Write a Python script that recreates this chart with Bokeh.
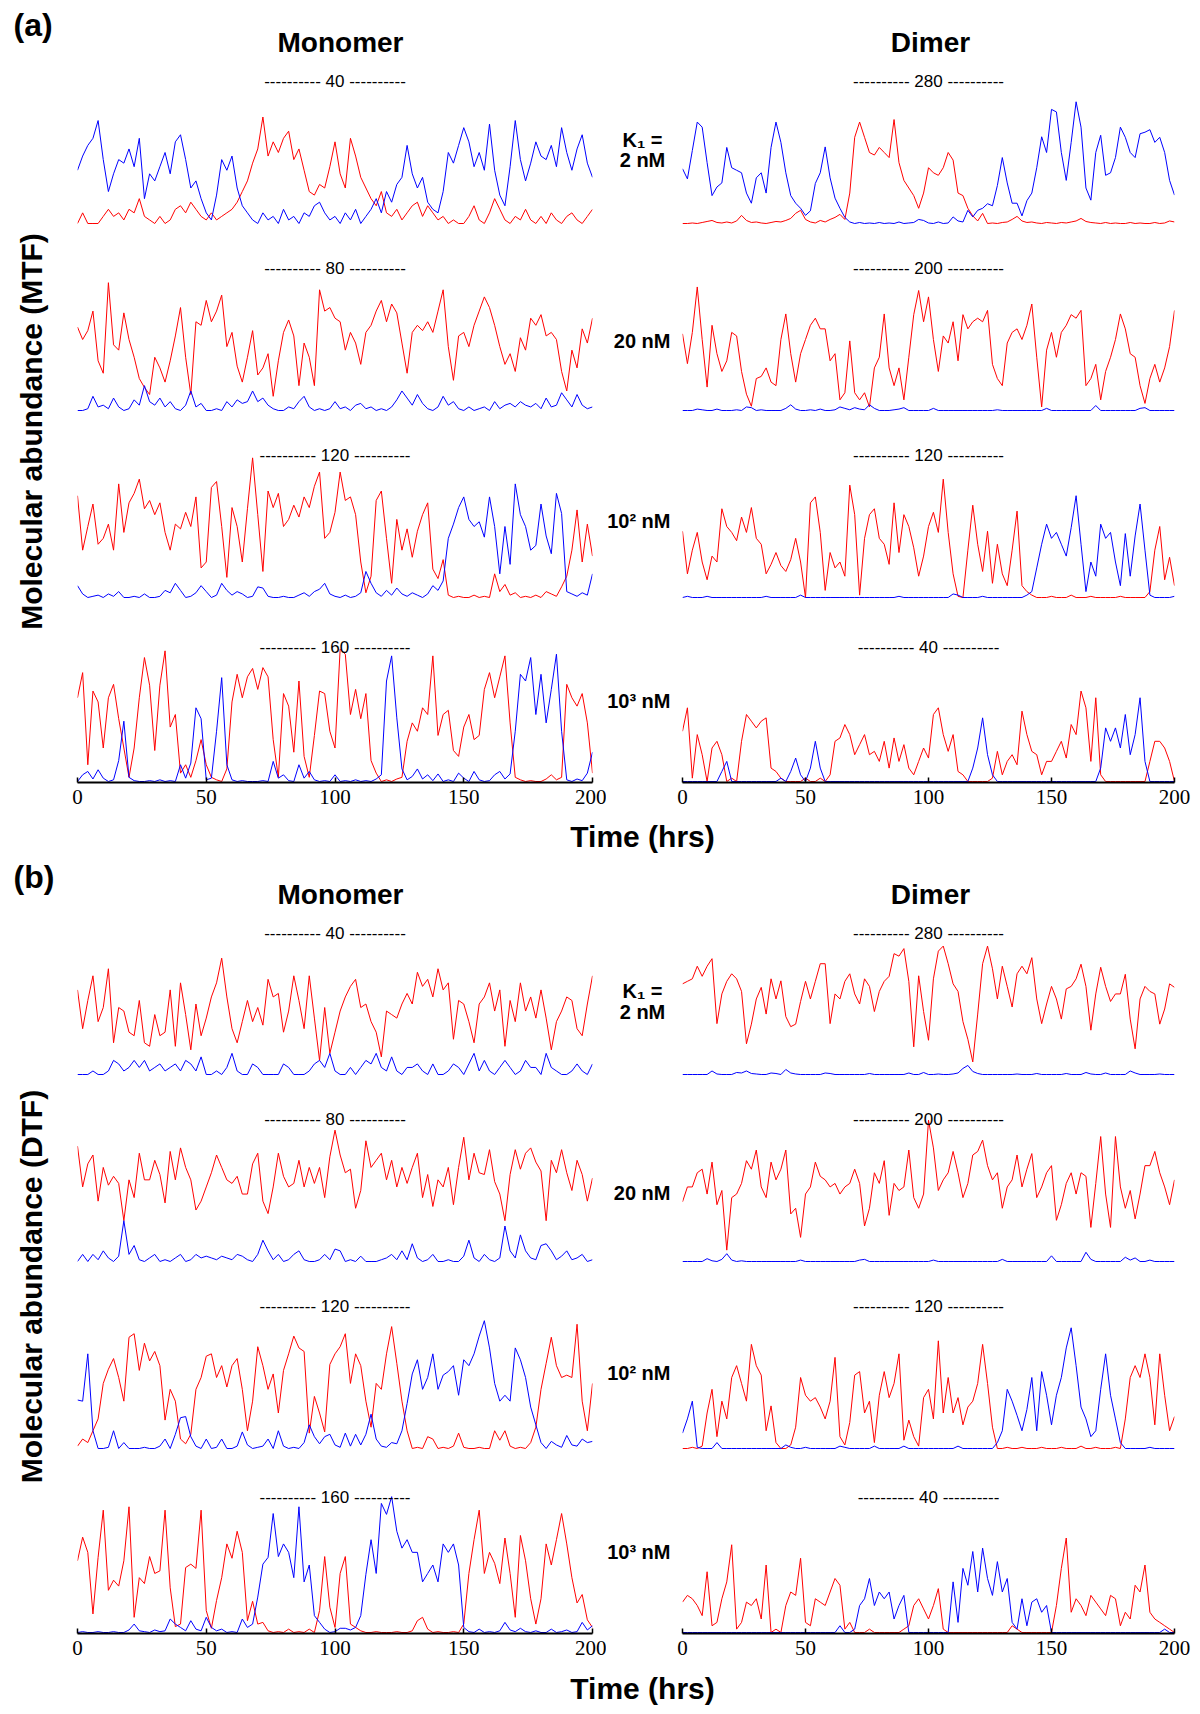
import math
from bokeh.plotting import figure
from bokeh.layouts import column, row
from bokeh.models import Range1d, FixedTicker
from bokeh.embed import file_html
from bokeh.resources import INLINE
from bokeh.core.properties import value

SANS = "Liberation Sans"
SERIF = "Liberation Serif"
RED = "#ff0000"
BLUE = "#0000ff"

# sampling step of the traces (hours)
STEP_HRS = 2
TIME_TICKS = [0, 50, 100, 150, 200]
MONO_MAX = [40, 80, 120, 160]
DIM_MAX = [280, 200, 120, 40]
ROW_NAMES = ["2 nM", "20 nM", "10\u00b2 nM", "10\u00b3 nM"]

# ---------------- (a) MTF, monomer ----------------
mtf_mono_2nM_red = [0,3,0,0,0,2,4,2,3,1, 4,3,7,2,1,0,2,0,1,4, 5,3,6,4,2,1,3,1,2,3,
    4,6,9,12,17,21,30,19,23,20, 24,26,18,21,15,9,8,11,10,16, 23,14,10,24,19,13,10,7,5,9,
    3,2,4,1,3,5,6,2,5,3, 1,2,0,1,0,0,2,5,1,0, 3,7,4,1,0,2,1,4,1,0, 2,0,3,1,0,2,3,1,0,2, 4]
mtf_mono_2nM_blue = [15,19,22,24,29,18,9,14,18,17, 21,16,24,7,14,12,16,20,14,23, 25,18,10,12,7,3,1,8,18,15,
    19,10,5,3,1,0,3,1,2,0, 4,1,2,0,3,2,5,6,3,1, 2,0,3,1,4,0,2,4,7,3,
    9,6,11,13,22,14,10,13,6,4, 3,9,20,17,22,27,23,16,20,15, 28,15,8,5,16,29,18,12,17,23,
    19,18,22,16,27,20,15,21,25,17, 13]
mtf_mono_20nM_red = [47,40,45,56,28,21,72,37,34,55, 40,30,18,13,9,30,24,16,28,42, 58,30,9,50,48,62,50,56,65,36,
    44,25,16,30,45,20,24,32,8,28, 44,51,42,14,38,30,14,68,56,58, 52,50,34,44,38,26,44,48,56,62,
    50,60,55,38,21,44,48,45,50,44, 56,68,36,17,42,44,36,48,56,64, 58,48,36,26,32,22,41,34,52,48,
    54,42,44,40,22,11,34,24,46,38, 52]
mtf_mono_20nM_blue = [0,0,1,8,2,3,1,7,2,0, 1,6,3,14,5,3,7,2,5,1, 0,3,11,2,4,0,0,1,0,5,
    2,6,4,5,11,5,7,3,1,0, 0,2,1,5,8,2,0,1,0,1, 5,1,2,0,3,4,1,2,0,1,
    0,2,6,11,7,3,9,4,1,0, 2,8,3,5,1,0,2,0,1,2, 0,5,1,3,4,2,5,3,2,4, 1,7,2,3,10,6,2,9,3,1, 2]
mtf_mono_100nM_red = [86,40,60,79,45,50,62,40,96,55, 80,88,100,75,82,70,80,55,40,62, 58,72,60,85,25,30,93,98,60,17,
    76,60,30,75,118,70,22,90,76,88, 60,66,78,68,85,76,94,106,50,55, 72,106,82,85,70,30,4,18,82,90,
    50,12,66,40,58,34,56,70,80,24, 16,32,2,0,1,0,0,2,0,1, 0,20,5,11,2,4,0,1,0,2,
    0,5,3,1,9,18,40,74,30,62, 35]
mtf_mono_100nM_blue = [10,3,0,1,2,0,3,1,5,0, 0,1,0,3,0,0,1,6,4,12, 6,0,1,4,10,5,0,2,12,6,
    2,5,3,0,1,9,8,1,0,0, 1,0,0,2,4,1,5,7,12,3, 1,0,2,0,1,4,22,12,4,1,
    6,2,8,3,1,4,2,0,3,10, 6,14,50,62,76,85,66,60,64,51, 85,60,20,60,28,96,70,60,40,44,
    79,52,37,88,71,5,3,1,4,2, 20]
mtf_mono_1000nM_red = [100,130,20,108,95,40,100,116,75,40, 5,40,100,148,115,37,115,156,65,80, 10,20,5,25,50,20,5,2,0,15,
    95,128,100,125,135,110,136,125,50,5, 105,90,35,120,30,5,55,108,105,60, 40,158,152,80,110,75,105,25,10,0,
    2,0,3,5,48,70,60,88,80,150, 55,80,85,37,30,65,80,50,55,110, 130,100,125,150,70,5,2,0,1,0,
    0,3,8,2,5,116,100,90,105,70, 10]
mtf_mono_1000nM_blue = [0,8,12,3,14,4,0,2,25,72, 5,1,0,0,1,0,2,0,1,0, 20,4,22,88,75,2,4,60,124,20,
    2,0,1,0,0,0,1,0,24,4, 8,1,0,20,4,12,2,0,1,0, 8,0,1,0,2,0,1,0,3,8,
    120,150,76,15,2,6,15,3,8,1, 9,0,2,0,10,4,0,12,2,0, 1,8,12,3,9,60,128,120,148,80,
    128,70,110,152,60,2,0,3,1,10, 35]

# ---------------- (a) MTF, dimer ----------------
mtf_dim_2nM_red = [0,0,1,0,2,4,6,2,1,3, 1,5,16,6,2,3,1,0,2,4, 3,6,10,20,26,8,3,1,6,3,
    8,12,18,8,60,170,200,170,140,135, 150,140,130,205,120,85,70,55,30,60, 110,100,95,110,140,125,60,55,30,15,
    5,20,0,1,0,2,3,8,14,5, 2,3,1,0,2,1,0,2,1,3, 5,10,4,2,1,0,2,0,1,0,
    0,2,0,1,0,0,2,0,1,5, 3]
mtf_dim_2nM_blue = [108,88,144,200,190,120,55,72,80,150, 110,105,100,60,40,90,100,60,150,200, 160,100,55,40,30,16,25,79,100,151,
    90,50,30,12,3,0,2,0,1,0, 2,0,1,0,3,0,1,2,8,6, 1,0,3,0,1,13,5,3,26,13,
    26,30,39,35,75,130,80,40,40,15, 45,60,110,171,140,225,220,140,85,160, 240,190,70,46,140,174,95,100,130,190,
    170,140,130,177,180,185,160,170,140,85, 56]
mtf_dim_20nM_red = [108,66,110,174,100,33,120,80,55,70, 110,105,55,23,6,45,48,60,40,35, 100,136,80,40,80,100,120,130,115,115,
    70,80,15,25,98,25,15,25,5,60, 75,136,60,35,60,15,75,135,169,125, 160,100,55,105,95,125,70,135,115,125,
    130,125,141,65,45,35,95,110,115,100, 120,150,75,5,85,110,75,110,120,135, 130,141,35,45,65,15,55,75,100,136,
    115,80,75,35,10,45,65,40,60,90, 141]
mtf_dim_20nM_blue = [0,0,0,2,1,0,0,2,0,0, 0,1,0,5,4,0,1,0,0,0, 0,3,8,2,0,0,1,0,2,0,
    0,1,5,3,1,4,2,1,8,3, 0,0,0,1,2,4,0,0,0,0, 0,3,0,0,0,0,0,0,0,0,
    0,0,0,0,1,0,0,0,0,0, 0,0,0,0,3,0,0,0,0,0, 0,0,0,0,7,0,0,0,0,0, 0,0,0,3,4,0,0,0,0,0, 0]
mtf_dim_100nM_red = [56,20,40,55,30,15,35,30,75,60, 55,48,68,55,76,50,45,20,28,38, 27,22,32,50,30,0,80,85,55,6,
    38,25,30,18,95,70,2,50,70,75, 50,45,28,80,38,70,60,42,18,35, 60,72,55,100,55,20,1,0,40,78,
    45,22,56,12,45,20,10,40,73,10, 5,2,0,0,0,1,0,0,0,2, 0,0,0,1,0,0,0,0,0,1,
    0,0,0,0,0,5,40,60,15,34, 10]
mtf_dim_100nM_blue = [0,1,0,0,0,1,0,0,0,0, 0,0,0,0,0,0,0,1,0,0, 0,0,0,0,2,0,0,0,0,0,
    0,0,0,0,0,0,0,0,0,0, 0,0,0,0,1,0,0,0,0,0, 0,0,0,0,0,3,2,0,0,0,
    0,1,0,0,0,0,0,0,0,0, 2,5,25,45,62,50,55,45,35,59, 86,45,5,30,18,62,50,55,30,10,
    54,18,52,79,40,2,0,0,0,0, 1]
mtf_dim_1000nM_red = [15,22,1,14,8,0,10,12,8,0, 1,0,12,20,18,16,18,19,4,3, 1,0,0,0,0,1,0,0,1,0,
    2,12,13,17,14,8,11,14,8,9, 6,12,4,13,6,11,4,2,6,10, 7,20,22,14,9,14,3,2,0,0,
    0,0,0,1,9,2,6,8,5,21, 14,9,8,2,6,6,9,12,7,17, 14,27,22,6,25,2,0,0,0,0,
    0,0,0,0,0,6,12,12,10,6, 0]
mtf_dim_1000nM_blue = [0,0,0,0,0,0,0,0,3,6, 0,0,0,0,0,0,0,0,0,0, 1,0,3,7,2,0,4,12,4,0,
    0,0,0,0,0,0,0,0,0,0, 0,0,0,0,0,0,0,0,0,0, 0,0,0,0,0,0,0,0,0,4,
    10,19,8,2,0,0,0,0,0,0, 0,0,0,0,0,0,0,0,0,0, 0,0,0,0,0,4,16,12,16,10,
    20,8,14,25,6,0,0,0,0,0, 0]

# ---------------- (b) DTF, monomer ----------------
dtf_mono_2nM_red = [24,13,21,28,15,19,30,9,19,18, 12,11,21,9,8,17,11,12,24,8, 26,17,7,20,11,16,22,26,33,22,
    13,9,15,21,15,19,14,27,22,23, 12,18,28,21,13,28,16,4,19,6, 12,18,22,25,27,19,20,15,12,5,
    18,17,16,20,23,20,29,25,27,22, 30,24,26,10,21,20,15,9,20,22, 26,18,24,8,21,15,26,18,22,16,
    24,16,7,15,18,22,21,13,11,20, 28]
dtf_mono_2nM_blue = [0,0,0,1,0,0,1,4,3,1, 2,4,2,4,1,2,3,1,2,3, 1,4,3,1,5,0,0,1,0,2,
    6,1,0,0,3,2,0,0,0,0, 3,2,0,0,0,1,3,4,2,6, 1,0,0,2,0,2,4,3,6,2,
    1,5,1,0,2,2,3,1,0,3, 0,0,1,3,2,0,3,6,1,4, 1,0,2,4,2,0,1,4,2,2, 0,6,2,1,0,0,1,3,1,0, 3]
dtf_mono_20nM_red = [65,42,55,60,34,53,43,48,44,23, 46,36,61,46,46,57,49,33,62,46, 64,53,46,29,34,42,50,60,53,46,
    44,48,38,38,55,61,34,27,42,61, 48,42,44,57,42,53,44,53,36,59, 74,60,50,52,30,40,68,53,57,61,
    46,57,42,53,44,53,61,36,49,31, 46,42,53,32,53,70,46,61,50,49, 63,45,38,23,49,63,52,61,64,56,
    51,23,57,50,63,50,40,57,49,34, 47]
dtf_mono_20nM_blue = [0,4,0,4,1,6,2,0,3,23, 4,9,1,0,2,4,0,1,0,2, 4,0,1,4,2,3,2,1,3,2,
    1,4,3,1,0,4,12,6,1,4, 0,1,4,6,1,0,0,1,4,1, 7,6,0,1,0,3,0,0,0,1,
    2,4,1,6,1,10,2,0,1,4, 0,0,1,0,0,3,12,2,0,4, 1,0,2,20,6,2,15,6,2,1, 9,10,6,1,3,6,1,2,4,0, 1]
dtf_mono_100nM_red = [2,8,5,15,25,55,67,76,60,40, 94,97,66,89,74,82,70,24,50,40, 8,4,12,50,60,78,80,60,70,52,
    70,76,50,15,40,86,70,50,63,30, 66,80,95,85,82,13,44,30,14,71, 80,86,97,55,80,70,40,18,55,50,
    80,103,72,40,15,0,1,0,10,8, 0,1,0,2,13,1,0,0,1,0, 0,15,7,15,2,0,1,0,5,18,
    50,72,94,70,60,62,60,105,40,15, 55]
dtf_mono_100nM_blue = [41,40,80,15,0,0,1,15,0,5, 0,0,0,1,0,0,2,8,0,12, 26,27,10,2,0,8,0,1,8,0,
    0,2,14,3,0,1,2,8,0,15, 2,0,1,0,5,20,10,4,10,12, 3,1,13,2,12,3,12,29,8,2,
    1,5,4,15,38,63,75,50,60,80, 50,62,65,70,45,75,70,80,95,108, 85,55,40,45,40,85,75,60,35,20,
    5,0,6,3,1,11,3,2,8,5, 6]
dtf_mono_1000nM_red = [85,113,95,22,89,145,50,62,55,85, 149,18,65,58,90,70,73,145,53,7, 10,77,81,76,145,26,5,38,65,105,
    88,120,95,14,37,10,12,2,0,1, 0,4,0,1,0,4,0,26,90,30, 6,70,90,10,6,2,0,0,1,0,
    0,0,1,0,0,2,14,18,4,0, 1,0,0,1,0,10,70,110,145,70, 95,82,58,112,70,18,115,85,40,10,
    40,105,80,110,141,105,65,35,45,15, 6]
dtf_mono_1000nM_blue = [0,1,0,0,1,0,0,1,0,0, 3,10,2,1,0,3,1,2,16,10, 6,2,14,4,2,18,6,2,4,0,
    1,0,16,6,10,42,81,89,141,90, 105,95,65,149,60,80,20,12,4,0, 1,5,5,3,6,20,69,110,70,153,
    140,161,120,100,110,95,95,60,70,80, 60,105,95,105,80,6,1,0,4,0, 1,0,2,12,3,1,5,1,0,2,
    0,0,4,0,1,3,0,1,12,3, 8]

# ---------------- (b) DTF, dimer ----------------
dtf_dim_2nM_red = [180,185,190,215,195,215,230,101,160,185, 200,190,165,61,100,150,173,120,190,150,
    186,115,95,100,145,185,150,185,220,220, 101,160,150,185,200,160,140,190,175,125,
    165,185,195,240,235,250,185,55,196,125, 68,190,245,255,220,180,165,105,70,25,
    120,220,255,210,150,215,175,134,200,215, 200,232,150,101,140,175,150,110,170,175,
    190,219,175,88,160,213,175,145,160,160, 199,110,51,150,175,165,160,100,130,180, 173]
dtf_dim_2nM_blue = [0,0,0,0,0,0,7,1,0,0, 0,4,3,7,2,1,0,0,3,2, 0,10,3,1,0,0,0,0,0,3,
    2,0,0,0,0,0,0,0,2,0, 0,0,0,0,0,0,3,0,0,4, 0,0,1,0,0,1,3,12,18,6,
    2,0,0,0,0,0,0,0,1,0, 0,0,2,0,0,0,0,0,2,0, 0,0,4,1,0,0,3,0,0,0, 0,7,3,0,0,0,0,1,0,0, 0]
dtf_dim_20nM_red = [84,105,105,125,130,95,140,80,100,16, 90,95,110,142,130,157,105,90,140,115,
    130,157,67,75,34,95,105,140,120,115, 105,110,95,105,110,130,110,50,75,125,
    110,142,65,110,100,105,157,90,75,95, 199,160,100,115,125,155,125,90,110,150,
    155,171,135,115,125,75,105,115,150,105, 130,152,90,105,125,135,58,80,110,125,
    95,125,120,48,110,176,95,48,176,105, 75,100,60,95,135,135,155,125,105,80, 115]
dtf_dim_20nM_blue = [0,0,0,0,0,4,1,0,3,11, 2,0,1,0,0,0,0,0,0,0, 0,0,0,0,2,0,0,0,0,0,
    0,0,0,0,0,0,2,3,0,0, 0,0,0,0,0,0,0,0,0,0, 0,2,0,0,0,0,0,0,0,0,
    0,0,0,0,0,3,0,0,0,0, 0,0,0,0,0,8,0,0,0,0, 0,0,13,3,0,0,0,0,0,0, 6,2,5,0,0,2,0,0,0,0, 0]
dtf_dim_100nM_red = [0,0,1,0,2,30,50,10,40,25, 60,70,55,40,88,70,62,15,36,5, 0,0,3,18,60,45,40,43,35,25,
    40,77,10,3,22,62,65,30,40,5, 45,65,43,55,80,7,24,10,2,43, 50,25,91,30,60,30,43,20,35,40,
    55,88,55,18,0,0,1,0,0,1, 0,0,0,1,0,0,0,1,0,0, 0,2,0,0,1,0,0,0,1,0,
    25,60,70,60,80,60,20,80,45,15, 27]
dtf_dim_100nM_blue = [13,25,40,1,0,0,0,5,0,0, 0,0,0,0,0,0,0,0,0,0, 0,3,1,0,0,1,0,0,0,0,
    0,0,2,1,0,0,0,0,0,2, 0,0,0,0,0,2,0,0,0,0, 0,0,0,0,0,0,2,0,0,0,
    0,0,0,0,5,15,50,40,28,15, 33,60,15,65,45,20,45,60,85,102, 70,35,25,10,15,50,80,45,25,5,
    0,0,0,0,0,1,0,0,0,0, 0]
dtf_dim_1000nM_red = [9,11,10,8,5,18,2,3,10,15, 26,1,3,9,8,10,4,20,0,1, 0,8,12,11,22,3,2,10,9,8,
    12,16,14,1,3,0,0,0,1,0, 0,0,0,0,0,1,2,8,10,7, 4,8,13,1,0,0,0,0,0,0,
    0,0,0,0,0,0,0,2,1,0, 0,0,0,0,0,0,8,19,28,6, 10,8,5,11,9,7,5,11,10,2,
    6,4,14,12,20,6,4,3,2,1, 0]
dtf_dim_1000nM_blue = [0,0,0,0,0,0,0,0,0,0, 0,0,0,0,0,0,0,0,0,0, 0,0,0,0,0,0,0,0,0,0,
    0,0,2,0,0,1,8,10,16,8, 12,10,12,4,8,11,0,0,0,0, 0,0,0,0,0,15,3,19,14,24,
    12,25,16,11,21,12,16,3,1,10, 2,9,10,6,8,0,0,0,0,0, 0,0,0,0,0,0,0,0,0,0,
    0,0,0,0,0,0,0,0,1,0, 0]

MTF_MONO = [(mtf_mono_2nM_red, mtf_mono_2nM_blue), (mtf_mono_20nM_red, mtf_mono_20nM_blue),
            (mtf_mono_100nM_red, mtf_mono_100nM_blue), (mtf_mono_1000nM_red, mtf_mono_1000nM_blue)]
MTF_DIM = [(mtf_dim_2nM_red, mtf_dim_2nM_blue), (mtf_dim_20nM_red, mtf_dim_20nM_blue),
           (mtf_dim_100nM_red, mtf_dim_100nM_blue), (mtf_dim_1000nM_red, mtf_dim_1000nM_blue)]
DTF_MONO = [(dtf_mono_2nM_red, dtf_mono_2nM_blue), (dtf_mono_20nM_red, dtf_mono_20nM_blue),
            (dtf_mono_100nM_red, dtf_mono_100nM_blue), (dtf_mono_1000nM_red, dtf_mono_1000nM_blue)]
DTF_DIM = [(dtf_dim_2nM_red, dtf_dim_2nM_blue), (dtf_dim_20nM_red, dtf_dim_20nM_blue),
           (dtf_dim_100nM_red, dtf_dim_100nM_blue), (dtf_dim_1000nM_red, dtf_dim_1000nM_blue)]

# ---------------- layout geometry (pixels) ----------------
PAGE_PAD = 8
W_YLAB, W_LEFT, W_MID, W_RIGHT = 52 + PAGE_PAD, 546, 70, 516
LEFT_BL, LEFT_BR = 17, 14
RIGHT_BL, RIGHT_BR = 6, 18
LABEL_OFF = 13
# (band height, span from label to zero, bottom pad)
ROWS_A = [(187, 142, 4), (187, 142, 4), (192, 142, 4), (181, 134, 1)]
ROWS_B = [(186, 141, 4), (187, 142, 4), (191, 142, 4), (183, 135, 1)]
MID_Y_A = [(84, 108), 101, 95, 81]
MID_Y_B = [(83, 108), 102, 96, 83]


def bare(p):
    p.grid.visible = False
    p.outline_line_color = None
    p.background_fill_color = "white"
    p.border_fill_color = "white"


def text_fig(w, h):
    p = figure(width=w, height=h, x_range=Range1d(0, w), y_range=Range1d(0, h),
               output_backend="svg", toolbar_location=None,
               x_axis_location=None, y_axis_location=None, min_border=0)
    bare(p)
    return p


def put(p, x, y_top, s, size, bold=True, align="center", angle=0.0, font=SANS):
    p.text(x=[x], y=[p.height - y_top], text=[s], text_align=align, text_baseline="middle",
           angle=angle, text_font=value(font), text_font_size=f"{size}px",
           text_font_style="bold" if bold else "normal", text_color="black")


def panel(w, bl, br, spec, vmax, red, blue, axis):
    h, span, pad = spec
    bb = h - LABEL_OFF - span - pad
    p = figure(width=w, height=h, x_range=Range1d(0, 200),
               y_range=Range1d(-pad * vmax / span, vmax * (span + LABEL_OFF) / span),
               output_backend="svg", toolbar_location=None,
               x_axis_location="below" if axis else None, y_axis_location=None,
               min_border=0, min_border_left=bl, min_border_right=br,
               min_border_top=0, min_border_bottom=bb)
    bare(p)
    p.line([STEP_HRS * i for i in range(len(red))], red, line_color=RED, line_width=1.0)
    p.line([STEP_HRS * i for i in range(len(blue))], blue, line_color=BLUE, line_width=1.0)
    p.text(x=[100], y=[vmax], text=[f"---------- {vmax} ----------"], text_align="center",
           text_baseline="middle", text_font=value(SANS), text_font_size="17px", text_color="black")
    if axis:
        ax = p.xaxis[0]
        ax.ticker = FixedTicker(ticks=TIME_TICKS)
        ax.axis_line_width = 2
        ax.axis_line_color = "black"
        ax.major_tick_in = 5
        ax.major_tick_out = 0
        ax.major_tick_line_width = 1.5
        ax.major_tick_line_color = "black"
        ax.minor_tick_line_color = None
        ax.major_label_text_font = SERIF
        ax.major_label_text_font_size = "21px"
        ax.major_label_text_color = "black"
        ax.major_label_standoff = 7
    return p


def block(rows_spec, mono, dim, mid_y, ylabel, ylabel_y):
    total_h = sum(s[0] for s in rows_spec)
    ylab = text_fig(W_YLAB, total_h)
    put(ylab, PAGE_PAD + 23, ylabel_y, ylabel, 30, angle=math.pi / 2)
    rows = []
    for k, spec in enumerate(rows_spec):
        axis = (k == len(rows_spec) - 1)
        left = panel(W_LEFT, LEFT_BL, LEFT_BR, spec, MONO_MAX[k], mono[k][0], mono[k][1], axis)
        right = panel(W_RIGHT, RIGHT_BL, RIGHT_BR, spec, DIM_MAX[k], dim[k][0], dim[k][1], axis)
        mid = text_fig(W_MID, spec[0])
        if k == 0:
            put(mid, 36, mid_y[0][0], "K\u2081 =", 20)
            put(mid, 36, mid_y[0][1], ROW_NAMES[0], 20)
        else:
            put(mid, 64, mid_y[k], ROW_NAMES[k], 20, align="right")
        rows.append(row(left, mid, right))
    return row(ylab, column(*rows))


TOTAL_W = W_YLAB + W_LEFT + W_MID + W_RIGHT

header_a = text_fig(TOTAL_W, 60 + PAGE_PAD)
put(header_a, PAGE_PAD + 5, PAGE_PAD + 16, "(a)", 32, align="left")
put(header_a, PAGE_PAD + 332, PAGE_PAD + 34, "Monomer", 28)
put(header_a, PAGE_PAD + 922, PAGE_PAD + 34, "Dimer", 28)

block_a = block(ROWS_A, MTF_MONO, MTF_DIM, MID_Y_A, "Molecular abundance (MTF)", 363)

time_a = text_fig(TOTAL_W, 43)
put(time_a, PAGE_PAD + 634, 21, "Time (hrs)", 30)

header_b = text_fig(TOTAL_W, 62)
put(header_b, PAGE_PAD + 5, 18, "(b)", 32, align="left")
put(header_b, PAGE_PAD + 332, 36, "Monomer", 28)
put(header_b, PAGE_PAD + 922, 36, "Dimer", 28)

block_b = block(ROWS_B, DTF_MONO, DTF_DIM, MID_Y_B, "Molecular abundance (DTF)", 366)

time_b = text_fig(TOTAL_W, 39)
put(time_b, PAGE_PAD + 634, 21, "Time (hrs)", 30)

page = column(header_a, block_a, time_a, header_b, block_b, time_b)

open("out.html", "w").write(file_html(page, INLINE, title="Molecular abundance"))
